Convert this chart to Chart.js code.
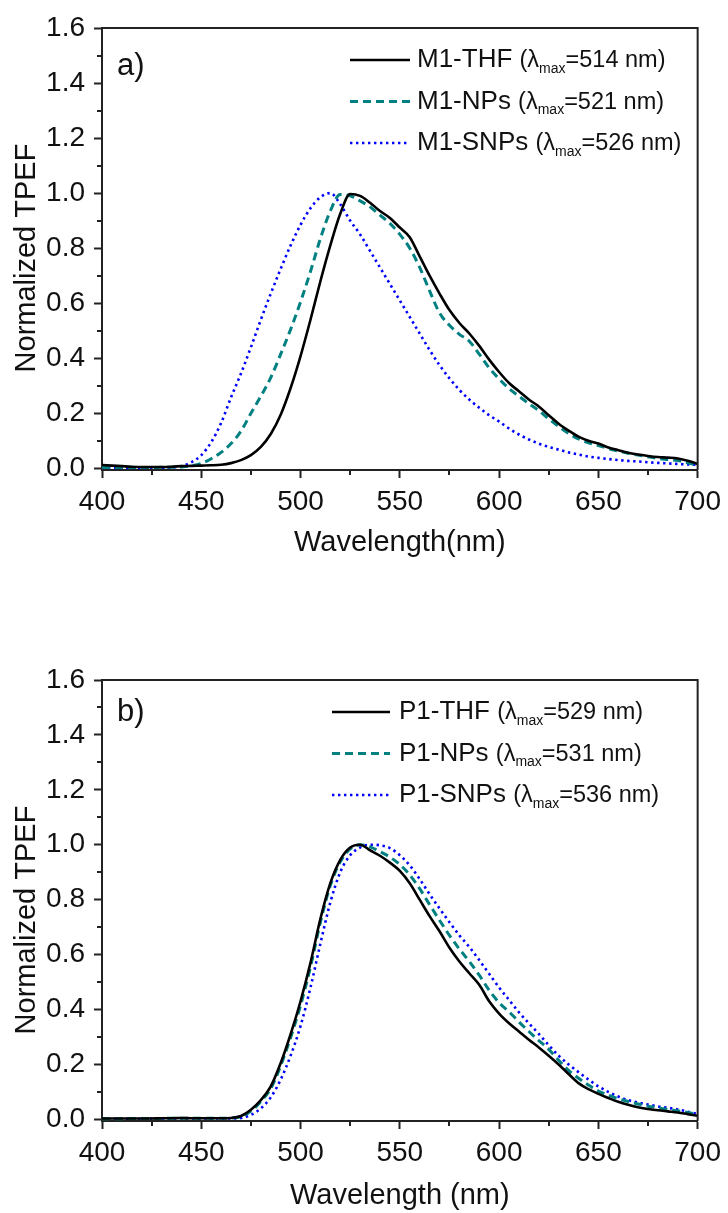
<!DOCTYPE html>
<html>
<head>
<meta charset="utf-8">
<title>Normalized TPEF spectra</title>
<script src="https://cdn.jsdelivr.net/npm/chart.js@4.4.1/dist/chart.umd.min.js"></script>
<style>
  html, body { margin:0; padding:0; background:#ffffff; }
  #page { position:relative; width:728px; height:1213px; overflow:hidden; background:#fff; }
  canvas { position:absolute; left:0; display:block; }
</style>
</head>
<body>
<div id="page">
  <canvas id="chartA" width="728" height="600" style="top:0px"></canvas>
  <canvas id="chartB" width="728" height="613" style="top:600px"></canvas>
</div>
<script>
// ---------- data ----------
const wavelength = [400,405,410,415,420,425,430,435,440,445,450,455,460,465,470,475,480,485,490,495,
                    500,505,510,515,520,525,530,535,540,545,550,555,560,565,570,575,580,585,590,595,
                    600,605,610,615,620,625,630,635,640,645,650,655,660,665,670,675,680,685,690,695,700];

// panel a)
const m1Thf  = [0.012,0.010,0.008,0.006,0.005,0.005,0.005,0.006,0.008,0.009,0.010,0.011,0.013,0.019,0.030,0.048,0.078,0.125,0.195,0.292,
                0.408,0.540,0.680,0.810,0.925,0.997,0.990,0.965,0.935,0.910,0.875,0.840,0.770,0.700,0.635,0.575,0.528,0.490,0.445,0.395,
                0.350,0.310,0.280,0.250,0.225,0.193,0.162,0.137,0.115,0.100,0.090,0.076,0.066,0.057,0.050,0.045,0.041,0.039,0.036,0.028,0.016];
const m1Nps  = [0.003,0.003,0.003,0.003,0.003,0.003,0.004,0.004,0.005,0.009,0.018,0.035,0.058,0.090,0.135,0.200,0.262,0.330,0.415,0.505,
                0.605,0.715,0.835,0.935,0.995,0.990,0.972,0.950,0.920,0.890,0.850,0.800,0.730,0.645,0.565,0.520,0.487,0.462,0.415,0.365,
                0.325,0.290,0.262,0.235,0.210,0.180,0.152,0.127,0.107,0.093,0.083,0.072,0.063,0.055,0.048,0.042,0.036,0.032,0.028,0.020,0.012];
const m1Snps = [0.002,0.001,0.001,0.001,0.001,0.002,0.002,0.003,0.008,0.022,0.048,0.095,0.165,0.258,0.345,0.440,0.540,0.635,0.725,0.810,
                0.885,0.945,0.985,1.000,0.960,0.900,0.850,0.790,0.730,0.670,0.610,0.550,0.490,0.430,0.375,0.327,0.285,0.250,0.220,0.193,
                0.170,0.145,0.123,0.105,0.090,0.078,0.068,0.058,0.050,0.043,0.038,0.034,0.030,0.027,0.025,0.022,0.020,0.018,0.016,0.014,0.013];

// panel b)
const p1Thf  = [0.003,0.003,0.003,0.003,0.003,0.003,0.004,0.004,0.005,0.004,0.004,0.004,0.004,0.005,0.012,0.035,0.070,0.120,0.205,0.310,
                0.430,0.570,0.730,0.860,0.945,0.990,1.000,0.980,0.960,0.935,0.905,0.860,0.800,0.740,0.685,0.625,0.575,0.532,0.490,0.430,
                0.385,0.350,0.320,0.290,0.262,0.232,0.200,0.165,0.132,0.110,0.093,0.078,0.064,0.053,0.044,0.038,0.033,0.029,0.025,0.019,0.013];
const p1Nps  = [0.002,0.002,0.002,0.003,0.003,0.003,0.003,0.004,0.004,0.004,0.004,0.004,0.004,0.005,0.010,0.030,0.065,0.112,0.195,0.298,
                0.415,0.555,0.718,0.852,0.938,0.985,1.000,0.992,0.975,0.955,0.928,0.890,0.840,0.782,0.725,0.670,0.620,0.575,0.525,0.470,
                0.425,0.392,0.355,0.320,0.287,0.255,0.215,0.178,0.150,0.125,0.103,0.088,0.075,0.065,0.056,0.048,0.042,0.036,0.031,0.025,0.018];
const p1Snps = [0.002,0.002,0.002,0.002,0.002,0.003,0.003,0.003,0.003,0.003,0.003,0.003,0.003,0.003,0.005,0.016,0.040,0.080,0.145,0.232,
                0.340,0.480,0.640,0.790,0.900,0.962,0.990,1.000,0.998,0.988,0.962,0.925,0.875,0.820,0.768,0.718,0.670,0.628,0.580,0.530,
                0.480,0.435,0.390,0.350,0.311,0.270,0.232,0.200,0.172,0.145,0.120,0.100,0.083,0.070,0.061,0.054,0.047,0.042,0.036,0.028,0.020];

const m1Names = ['M1-THF', 'M1-NPs', 'M1-SNPs'];
const m1LambdaMax = [514, 521, 526];
const p1Names = ['P1-THF', 'P1-NPs', 'P1-SNPs'];
const p1LambdaMax = [529, 531, 536];

const xTicks = [400, 450, 500, 550, 600, 650, 700];
const xMinorTicks = [425, 475, 525, 575, 625, 675];
const yTicks = [0, 0.2, 0.4, 0.6, 0.8, 1.0, 1.2, 1.4, 1.6];
const yMinorTicks = [0.1, 0.3, 0.5, 0.7, 0.9, 1.1, 1.3, 1.5];

// ---------- styling ----------
const FONT = "'Liberation Sans', Arial, Helvetica, sans-serif";
const AXIS = '#222222';
const TEXT = '#111111';
const STYLES = [
  { color: '#000000', width: 2.6, dash: [] },
  { color: '#008080', width: 3.0, dash: [8, 5] },
  { color: '#0000ff', width: 2.6, dash: [2.4, 3.6] }
];

const decor = {
  id: 'decor',
  afterDraw(chart, args, o) {
    const { ctx, chartArea: ca, scales: { x, y } } = chart;
    ctx.save();
    ctx.strokeStyle = AXIS;
    ctx.lineWidth = 2;
    ctx.setLineDash([]);
    // frame (top + right)
    ctx.beginPath();
    ctx.moveTo(ca.left, ca.top);
    ctx.lineTo(ca.right, ca.top);
    ctx.lineTo(ca.right, ca.bottom);
    ctx.stroke();
    // minor ticks (outward)
    ctx.beginPath();
    xMinorTicks.forEach(v => {
      const p = Math.round(x.getPixelForValue(v));
      ctx.moveTo(p, ca.bottom); ctx.lineTo(p, ca.bottom + 5);
    });
    yMinorTicks.forEach(v => {
      const p = Math.round(y.getPixelForValue(v));
      ctx.moveTo(ca.left, p); ctx.lineTo(ca.left - 5, p);
    });
    ctx.stroke();

    // y axis title
    ctx.fillStyle = TEXT;
    ctx.save();
    ctx.font = '29px ' + FONT;
    ctx.textAlign = 'center';
    ctx.textBaseline = 'middle';
    ctx.translate(o.yTitleX, o.yTitleY);
    ctx.rotate(-Math.PI / 2);
    ctx.fillText('Normalized TPEF', 0, 0);
    ctx.restore();

    // panel label
    ctx.font = '31px ' + FONT;
    ctx.textAlign = 'left';
    ctx.textBaseline = 'middle';
    ctx.fillText(o.panel, o.panelX, o.panelY);

    // legend
    chart.data.datasets.forEach((ds, i) => {
      const yy = o.legY + i * o.legDy;
      ctx.save();
      ctx.strokeStyle = ds.borderColor;
      ctx.lineWidth = ds.borderWidth;
      ctx.setLineDash(ds.borderDash || []);
      ctx.beginPath();
      ctx.moveTo(o.legX0, yy);
      ctx.lineTo(o.legX1, yy);
      ctx.stroke();
      ctx.restore();

      let tx = o.legText;
      ctx.textAlign = 'left';
      ctx.textBaseline = 'middle';
      ctx.font = '26px ' + FONT;
      const part1 = o.names[i] + ' ';
      ctx.fillText(part1, tx, yy);
      tx += ctx.measureText(part1).width;
      ctx.font = '23.5px ' + FONT;
      ctx.fillText('(\u03bb', tx, yy + 1);
      tx += ctx.measureText('(\u03bb').width;
      ctx.font = '14px ' + FONT;
      ctx.fillText('max', tx, yy + 9);
      tx += ctx.measureText('max').width;
      ctx.font = '23.5px ' + FONT;
      ctx.fillText('=' + o.lambdas[i] + ' nm)', tx, yy + 1);
    });
    ctx.restore();
  }
};

function makeChart(id, series, cfg) {
  const ctx = document.getElementById(id).getContext('2d');
  return new Chart(ctx, {
    type: 'line',
    data: {
      datasets: series.map((s, i) => ({
        label: cfg.names[i],
        data: wavelength.map((w, j) => ({ x: w, y: s[j] })),
        borderColor: STYLES[i].color,
        borderWidth: STYLES[i].width,
        borderDash: STYLES[i].dash,
        pointRadius: 0,
        fill: false,
        cubicInterpolationMode: 'monotone'
      }))
    },
    options: {
      responsive: false,
      animation: false,
      devicePixelRatio: 1,
      layout: { padding: { left: 0, right: 29, top: cfg.padTop, bottom: cfg.padBottom } },
      plugins: {
        legend: { display: false },
        tooltip: { enabled: false },
        decor: cfg
      },
      scales: {
        x: {
          type: 'linear', min: 400, max: 700,
          afterBuildTicks: s => { s.ticks = xTicks.map(v => ({ value: v })); },
          afterFit: s => { s.height = cfg.xHeight; },
          grid: { drawOnChartArea: false, drawTicks: true, tickLength: 8, tickWidth: 2, tickColor: AXIS },
          border: { display: true, color: AXIS, width: 2 },
          ticks: { color: TEXT, font: { family: FONT, size: 28 }, padding: 7, maxRotation: 0, autoSkip: false },
          title: { display: true, text: cfg.xTitle, color: TEXT, font: { family: FONT, size: 29 },
                   padding: { top: 0, bottom: cfg.xTitlePad } }
        },
        y: {
          type: 'linear', min: -0.006, max: 1.6,
          afterBuildTicks: s => { s.ticks = yTicks.map(v => ({ value: v })); },
          afterFit: s => { s.width = 102; },
          grid: { drawOnChartArea: false, drawTicks: true, tickLength: 8, tickWidth: 2, tickColor: AXIS },
          border: { display: true, color: AXIS, width: 2 },
          ticks: { color: TEXT, font: { family: FONT, size: 28 }, padding: 9,
                   callback: v => Number(v).toFixed(1) },
          title: { display: false }
        }
      }
    },
    plugins: [decor]
  });
}

makeChart('chartA', [m1Thf, m1Nps, m1Snps], {
  names: m1Names, lambdas: m1LambdaMax, panel: 'a)', xTitle: 'Wavelength(nm)',
  padTop: 28, padBottom: 30, xHeight: 100, xTitlePad: 9.6,
  yTitleX: 27, yTitleY: 258,
  panelX: 117, panelY: 66,
  legX0: 350, legX1: 410, legText: 417, legY: 60, legDy: 41.5
});

makeChart('chartB', [p1Thf, p1Nps, p1Snps], {
  names: p1Names, lambdas: p1LambdaMax, panel: 'b)', xTitle: 'Wavelength (nm)',
  padTop: 80, padBottom: 0, xHeight: 92, xTitlePad: 0,
  yTitleX: 27, yTitleY: 320,
  panelX: 117, panelY: 112,
  legX0: 332, legX1: 390, legText: 399, legY: 112, legDy: 41.5
});
</script>
</body>
</html>
